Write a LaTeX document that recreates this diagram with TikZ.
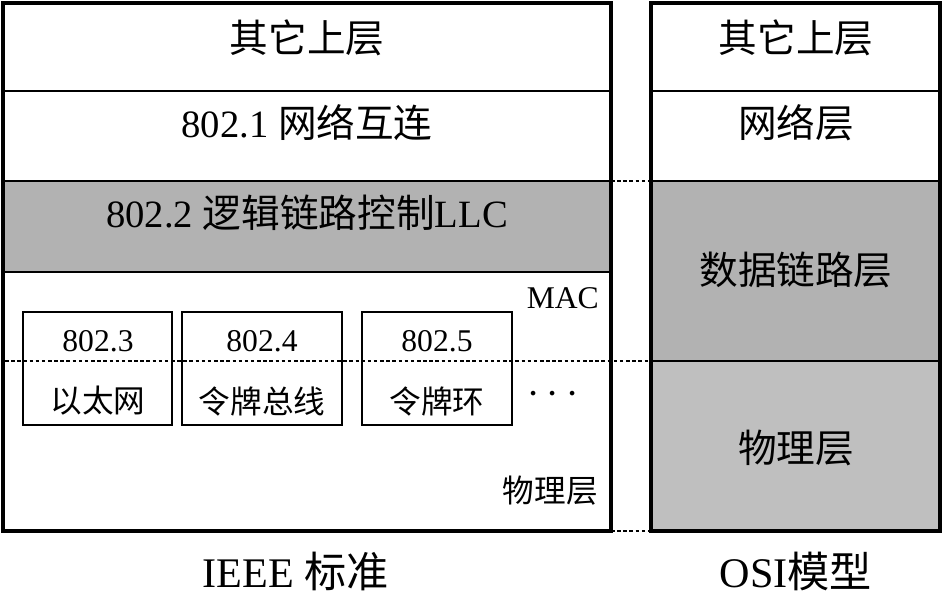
\documentclass[tikz,border=0pt]{standalone}
\usepackage{fontspec}
\setmainfont{Liberation Serif}
\newfontfamily\cjk{Noto Sans CJK SC}
\begin{document}
\begin{tikzpicture}[x=0.02cm,y=-0.02cm,
    big/.style={font=\fontsize{22}{26}\selectfont},
    small/.style={font=\fontsize{18}{22}\selectfont},
    caption/.style={font=\fontsize{24}{28}\selectfont},
    guide/.style={dash pattern=on 2pt off 1.5pt, line width=0.6pt}]
    \useasboundingbox (0,0) rectangle (949,606);
    % Shaded layers
    \fill[gray!60] (3,181) rectangle (611,272);
    \fill[gray!60] (651,181) rectangle (940,361);
    \fill[gray!50] (651,361) rectangle (940,531);
    % Inner rules
    \draw[line width=1.2pt] (3,91) -- (611,91);
    \draw[line width=1.2pt] (3,181) -- (611,181);
    \draw[line width=1.2pt] (3,272) -- (611,272);
    \draw[line width=1.2pt] (651,91) -- (940,91);
    \draw[line width=1.2pt] (651,181) -- (940,181);
    \draw[line width=1.2pt] (651,361) -- (940,361);
    % Sub-layer boxes
    \draw[line width=0.6pt] (23,312) rectangle (172,425);
    \draw[line width=0.6pt] (182,312) rectangle (342,425);
    \draw[line width=0.6pt] (362,312) rectangle (512,425);
    % Dashed guides
    \coordinate (macL) at (5,361);
    \coordinate (macR) at (651,361);
    \coordinate (llcL) at (611,181);
    \coordinate (llcR) at (651,181);
    \coordinate (phyL) at (611,531);
    \coordinate (phyR) at (651,531);
    \draw[guide] (macL) -- (macR);
    \draw[guide] (llcL) -- (llcR);
    \draw[guide] (phyL) -- (phyR);
    % Outer frames
    \draw[line width=2.3pt] (3,3) rectangle (611,531);
    \draw[line width=2.3pt] (651,3) rectangle (940,531);
    % IEEE labels
    \node[big] (upper) at (307,38) {\cjk 其它上层};
    \node[big] (net) at (307,123) {802.1 {\cjk 网络互连}};
    \node[big] (llc) at (307,213) {802.2 {\cjk 逻辑链路控制}LLC};
    \node[small, anchor=east] (mac) at (605,298) {MAC};
    \node[small] (s3) at (98,341) {802.3};
    \node[small] (e3) at (98,401) {\cjk 以太网};
    \node[small] (s4) at (262,341) {802.4};
    \node[small] (e4) at (262,401) {\cjk 令牌总线};
    \node[small] (s5) at (437,341) {802.5};
    \node[small] (e5) at (437,401) {\cjk 令牌环};
    \node[font=\fontsize{24}{28}\selectfont] (more) at (553,395) {$\cdots$};
    \node[small, anchor=east] (phy) at (604,491) {\cjk 物理层};
    % OSI labels
    \node[big] (osiUpper) at (796,38) {\cjk 其它上层};
    \node[big] (osiNet) at (796,123) {\cjk 网络层};
    \node[big] (osiLink) at (796,270) {\cjk 数据链路层};
    \node[big] (osiPhy) at (796,448) {\cjk 物理层};
    % Captions
    \node[caption] (ieee) at (296,571) {IEEE {\cjk 标准}};
    \node[caption] (osi) at (796,571) {OSI{\cjk 模型}};
\end{tikzpicture}
\end{document}
